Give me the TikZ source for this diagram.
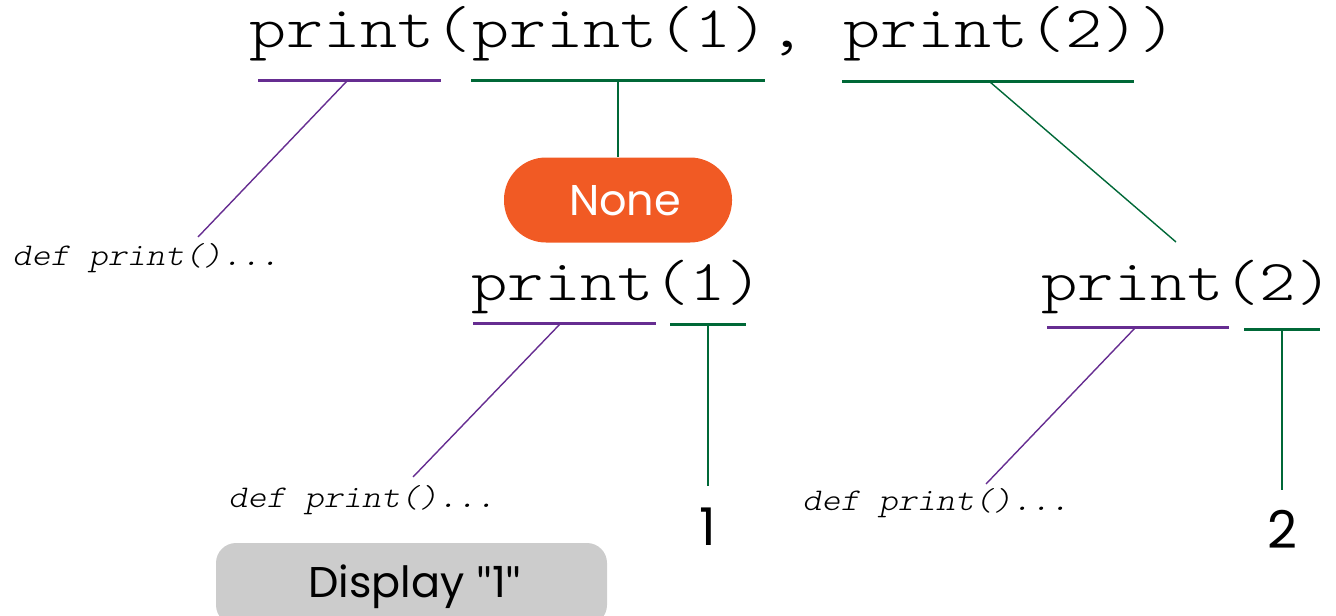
\documentclass[tikz,border=0pt]{standalone}
\usepackage{fontspec}
\setmainfont{Poppins}
\newfontfamily\quotefont{Lato}
\newfontfamily\codefont[FakeStretch=1.2]{Latin Modern Mono Light}
\newfontfamily\defcodefont[FakeStretch=1.15,FakeSlant=0.2]{Latin Modern Mono Light}
\definecolor{cpurple}{HTML}{662D91}
\definecolor{cgreen}{HTML}{006837}
\definecolor{corange}{HTML}{F15A24}
\definecolor{cgray}{HTML}{CCCCCC}
\begin{document}
\begin{tikzpicture}[x=0.5pt,y=-0.5pt,
  bigcode/.style={inner sep=0pt,anchor=base west,font=\codefont\fontsize{29.45pt}{33pt}\selectfont},
  midcode/.style={inner sep=0pt,anchor=base west,font=\codefont\fontsize{28.9pt}{33pt}\selectfont},
  defcode/.style={inner sep=0pt,anchor=base west,font=\defcodefont\fontsize{15.8pt}{19pt}\selectfont},
  numtext/.style={inner sep=0pt,anchor=base,font=\fontsize{26pt}{30pt}\selectfont},
  ulp/.style={draw=cpurple,line width=1.5pt},
  ulg/.style={draw=cgreen,line width=1.5pt},
  linkp/.style={draw=cpurple,line width=0.7pt},
  linkg/.style={draw=cgreen,line width=0.7pt},
  pill/.style={fill=corange,rounded corners=21pt,minimum width=114pt,minimum height=42.5pt,inner sep=0pt},
  graybox/.style={fill=cgray,rounded corners=10pt,minimum width=195.5pt,minimum height=41pt,inner sep=0pt}
]
\useasboundingbox (0,0) rectangle (1336,615);

% main expression
\node[bigcode] (main) at (249,48) {print(print(1), print(2))};
\coordinate (u1a) at (258,81);  \coordinate (u1b) at (441,81);
\coordinate (u2a) at (471,81);  \coordinate (u2b) at (765,81);
\coordinate (u3a) at (842,82);  \coordinate (u3b) at (1134,82);
\draw[ulp] (u1a) -- (u1b);
\draw[ulg] (u2a) -- (u2b);
\draw[ulg] (u3a) -- (u3b);
\coordinate (u1m) at (347,81);
\coordinate (u2m) at (618,81);
\coordinate (u3m) at (990,82);

% left def
\node[defcode] (def1) at (12,265) {def print()...};
\coordinate (d1top) at (198,237);
\draw[linkp] (u1m) -- (d1top);

% None pill
\node[pill] (none) at (618,200) {};
\node[inner sep=0pt,anchor=base,text=white,font=\fontsize{21.5pt}{25pt}\selectfont] (nonetext) at (625,215) {None};
\draw[linkg] (u2m) -- (none.north);

% print(1)
\node[midcode] (p1) at (471,300) {print(1)};
\coordinate (v1a) at (473,323); \coordinate (v1b) at (656,323);
\coordinate (v2a) at (670,324); \coordinate (v2b) at (746,324);
\draw[ulp] (v1a) -- (v1b);
\draw[ulg] (v2a) -- (v2b);
\coordinate (v1m) at (561,323);
\coordinate (v2m) at (708,324);
\node[defcode] (def2) at (228,507) {def print()...};
\coordinate (d2top) at (413,477);
\draw[linkp] (v1m) -- (d2top);
\node[numtext] (one) at (708,545) {1};
\draw[linkg] (v2m) -- (708,486) coordinate (onetop);

% Display box
\node[graybox] (disp) at (411.5,584) {};
\node[inner sep=0pt,anchor=base,font=\fontsize{21.5pt}{25pt}\selectfont] (disptext) at (415,597) {Display {\quotefont"}1{\quotefont"}};

% print(2)
\node[midcode] (p2) at (1041,300) {print(2)};
\draw[linkg] (u3m) -- (1176,242) coordinate (p2top);
\coordinate (w1a) at (1047,327); \coordinate (w1b) at (1229,327);
\coordinate (w2a) at (1244,329); \coordinate (w2b) at (1320,329);
\draw[ulp] (w1a) -- (w1b);
\draw[ulg] (w2a) -- (w2b);
\coordinate (w1m) at (1135,328);
\coordinate (w2m) at (1282,330);
\node[defcode] (def3) at (802,510) {def print()...};
\coordinate (d3top) at (986,484);
\draw[linkp] (w1m) -- (d3top);
\node[numtext] (two) at (1282,548) {2};
\draw[linkg] (w2m) -- (1282,490) coordinate (twotop);
\end{tikzpicture}
\end{document}
